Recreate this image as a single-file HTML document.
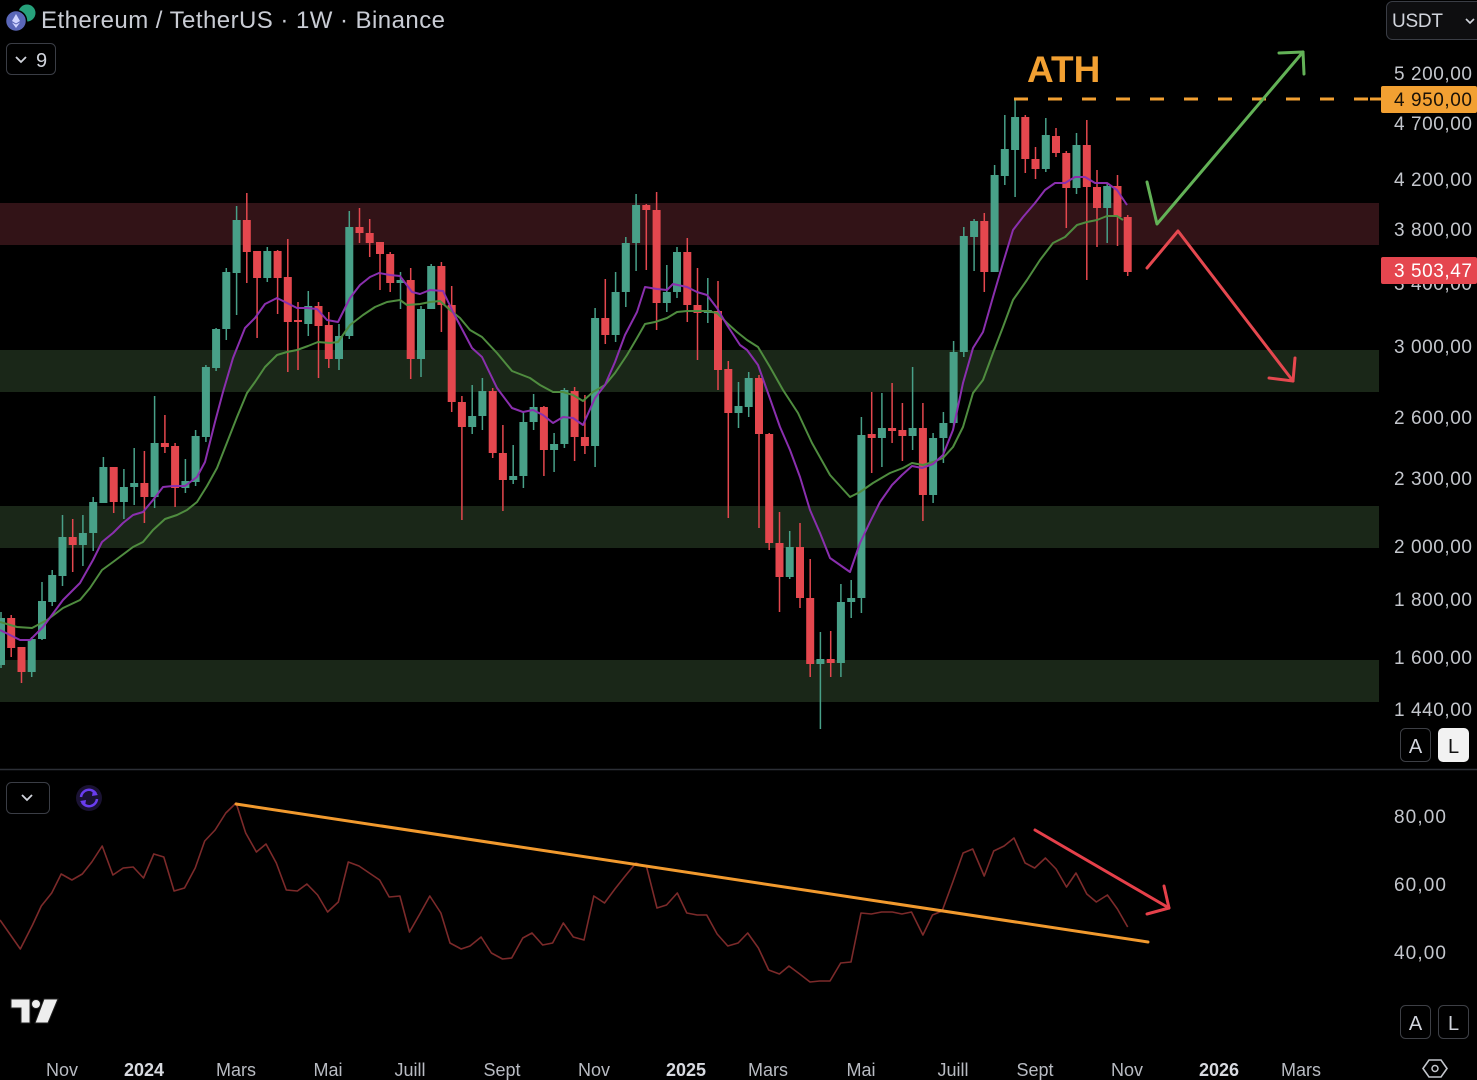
<!DOCTYPE html>
<html><head><meta charset="utf-8"><style>
html,body{margin:0;padding:0;background:#000;width:1477px;height:1080px;overflow:hidden}
svg{display:block}
text{font-family:"Liberation Sans",sans-serif}
</style></head><body>
<svg width="1477" height="1080" viewBox="0 0 1477 1080" xmlns="http://www.w3.org/2000/svg">
<rect width="1477" height="1080" fill="#000"/>
<!-- zones -->
<rect x="0" y="203" width="1379" height="42" fill="#321317"/>
<rect x="0" y="350" width="1379" height="42" fill="#1a2718"/>
<rect x="0" y="506" width="1379" height="42" fill="#1a2718"/>
<rect x="0" y="660" width="1379" height="42" fill="#1a2718"/>

<!-- green candles -->
<path fill="none" stroke="#48a088" stroke-width="1.5" d="M1,612V668M31.7,637V677M42,582V640M52.2,570V606M62.5,515V586M82.9,515V566M93.2,497V551M103.4,457V503M123.9,469V519M134.2,448V505M154.6,396V508M185.4,459V493M195.6,430V486M205.9,365V442M216.1,328V371M226.3,268V340M236.6,206V315M267.3,247V282M308.3,291V336M339,324V370M349.3,211V339M400.5,272V309M421,306V377M431.2,264V309M472.2,385V434M482.4,378V430M513.2,445V484M523.4,412V488M533.6,394V430M554.1,433V472M564.4,388V448M595.1,308V467M615.6,272V342M625.8,237V307M636.1,194V271M666.8,265V312M677,247V298M707.8,278V323M738.5,382V428M748.7,372V417M789.7,531V579M820.4,632V729M840.9,584V677M851.2,580V618M861.4,417V613M881.9,393V467M912.6,367V450M933.1,433V503M943.4,412V463M953.6,341V428M963.8,227V357M974.1,219V271M994.6,165V272M1004.8,115V185M1015.1,98V197M1045.8,118V172M1076.5,133V194M1107.2,183V243"/>
<path fill="#48a088" d="M-3,618h8V665h-8ZM27.7,639h8V672h-8ZM38,601h8V639h-8ZM48.2,575h8V602h-8ZM58.5,537h8V576h-8ZM78.9,533h8V545h-8ZM89.2,502h8V533h-8ZM99.4,467h8V503h-8ZM119.9,487h8V502h-8ZM130.2,483h8V487h-8ZM150.6,443h8V497h-8ZM181.4,481h8V488h-8ZM191.6,436h8V482h-8ZM201.9,367h8V437h-8ZM212.1,329h8V368h-8ZM222.3,272h8V329h-8ZM232.6,220h8V273h-8ZM263.3,251h8V278h-8ZM304.3,306h8V324h-8ZM335,336h8V359h-8ZM345.3,227h8V336h-8ZM396.5,280h8V283h-8ZM417,309h8V359h-8ZM427.2,266h8V309h-8ZM468.2,416h8V427h-8ZM478.4,391h8V416h-8ZM509.2,476h8V480h-8ZM519.4,422h8V476h-8ZM529.6,407h8V422h-8ZM550.1,444h8V450h-8ZM560.4,390h8V444h-8ZM591.1,318h8V446h-8ZM611.6,292h8V335h-8ZM621.8,243h8V292h-8ZM632.1,205h8V243h-8ZM662.8,292h8V303h-8ZM673,252h8V292h-8ZM703.8,310h8V313h-8ZM734.5,406h8V413h-8ZM744.7,378h8V407h-8ZM785.7,547h8V577h-8ZM816.4,659h8V664h-8ZM836.9,602h8V663h-8ZM847.2,598h8V602h-8ZM857.4,435h8V598h-8ZM877.9,428h8V438h-8ZM908.6,428h8V436h-8ZM929.1,438h8V495h-8ZM939.4,423h8V438h-8ZM949.6,352h8V423h-8ZM959.8,236h8V352h-8ZM970.1,221h8V237h-8ZM990.6,175h8V272h-8ZM1000.8,149h8V176h-8ZM1011.1,117h8V150h-8ZM1041.8,135h8V169h-8ZM1072.5,145h8V188h-8ZM1103.2,186h8V208h-8Z"/>

<!-- red candles -->
<path fill="none" stroke="#e4474e" stroke-width="1.5" d="M11.2,615V657M21.5,647V683M72.7,519V572M113.7,467V513M144.4,451V523M164.9,415V453M175.1,443V507M246.8,193V283M257.1,251V338M277.6,250V314M287.8,239V372M298,302V370M318.5,302V378M328.8,312V368M359.5,208V243M369.7,219V257M380,242V290M390.2,252V292M410.7,268V379M441.4,262V332M451.7,286V412M461.9,396V520M492.7,388V458M502.9,425V511M543.9,406V476M574.6,387V461M584.9,395V454M605.3,279V344M646.3,204V270M656.6,192V330M687.3,238V322M697.5,268V360M718,281V390M728.3,361V518M759,375V528M769.2,433V550M779.5,512V612M800,523V608M810.2,559V677M830.7,631V677M871.7,392V473M892.1,383V443M902.4,403V461M922.9,403V521M984.3,213V292M1025.3,115V173M1035.5,147V179M1056,128V157M1066.3,151V228M1086.8,120V280M1097,170V247M1117.5,175V246M1127.7,215V276"/>
<path fill="#e4474e" d="M7.2,618h8V648h-8ZM17.5,647h8V672h-8ZM68.7,537h8V545h-8ZM109.7,467h8V502h-8ZM140.4,483h8V497h-8ZM160.9,443h8V447h-8ZM171.1,446h8V488h-8ZM242.8,220h8V252h-8ZM253.1,251h8V278h-8ZM273.6,251h8V278h-8ZM283.8,277h8V322h-8ZM294,320h8V322h-8ZM314.5,306h8V326h-8ZM324.8,325h8V359h-8ZM355.5,227h8V233h-8ZM365.7,233h8V243h-8ZM376,242h8V254h-8ZM386.2,254h8V283h-8ZM406.7,280h8V359h-8ZM437.4,266h8V305h-8ZM447.7,305h8V402h-8ZM457.9,402h8V427h-8ZM488.7,391h8V453h-8ZM498.9,453h8V480h-8ZM539.9,407h8V450h-8ZM570.6,391h8V437h-8ZM580.9,437h8V446h-8ZM601.3,318h8V335h-8ZM642.3,205h8V210h-8ZM652.6,210h8V303h-8ZM683.3,252h8V305h-8ZM693.5,305h8V313h-8ZM714,311h8V370h-8ZM724.3,369h8V413h-8ZM755,378h8V434h-8ZM765.2,434h8V543h-8ZM775.5,543h8V577h-8ZM796,547h8V598h-8ZM806.2,598h8V664h-8ZM826.7,659h8V663h-8ZM867.7,434h8V438h-8ZM888.1,428h8V431h-8ZM898.4,430h8V436h-8ZM918.9,428h8V495h-8ZM980.3,221h8V272h-8ZM1021.3,117h8V159h-8ZM1031.5,159h8V169h-8ZM1052,136h8V153h-8ZM1062.3,153h8V188h-8ZM1082.8,145h8V187h-8ZM1093,187h8V208h-8ZM1113.5,186h8V217h-8ZM1123.7,217h8V272h-8Z"/>

<!-- moving averages -->
<polyline fill="none" stroke="#4f8c3f" stroke-width="2" stroke-linejoin="round" points="0,622 17,627 32,628 47,620 63,608 80,600 90,588 102,570 113,562 133,547 143,542 153,530 165,519 177,515 187,510 197,502 207,486 217,468 228,440 237,417 247,393 255,382 265,367 277,355 287,352 297,350 308,346 318,342 330,343 338,342 350,325 363,315 375,307 387,302 400,300 407,305 420,304 430,302 440,301 450,310 460,318 470,330 482,337 497,353 512,371 530,378 540,385 553,392 563,392 573,395 583,401 593,392 605,385 615,373 627,355 637,338 645,324 655,322 667,318 677,312 687,311 697,311 707,311 717,313 727,323 737,332 747,340 758,347 770,367 783,390 798,413 812,443 830,475 850,497 860,492 873,483 890,473 903,468 912,463 923,465 933,462 943,458 953,447 963,427 973,393 983,380 993,353 1003,327 1013,300 1027,280 1040,260 1053,243 1065,237 1077,225 1087,222 1097,220 1107,216 1117,216 1123,220"/>
<polyline fill="none" stroke="#8a2fae" stroke-width="2" stroke-linejoin="round" points="0,630 20,640 30,640 43,627 63,600 80,583 93,560 102,542 113,533 123,523 133,515 143,512 153,500 163,487 173,486 185,486 197,477 205,462 215,422 223,392 233,358 245,328 255,318 265,304 277,298 287,303 297,308 307,308 317,309 327,320 338,322 350,298 360,285 370,277 379,273 390,275 400,276 412,292 420,294 430,290 443,291 453,312 472,348 482,357 497,388 512,408 523,412 533,410 543,415 553,423 563,417 573,418 583,425 595,398 605,385 615,362 625,335 637,312 645,287 657,289 667,290 673,284 687,287 697,292 707,295 717,308 727,325 740,345 747,350 758,365 768,393 780,427 790,450 800,477 810,510 820,533 830,558 840,565 850,572 860,543 870,522 880,502 892,485 902,475 912,466 922,468 933,464 943,455 953,430 963,383 973,348 983,332 993,297 1003,263 1013,230 1023,217 1035,203 1045,190 1055,183 1065,183 1075,177 1085,177 1095,183 1107,183 1117,190 1127,205"/>

<!-- ATH dashed line -->
<line x1="1014" y1="99" x2="1380" y2="99" stroke="#f2a032" stroke-width="3" stroke-dasharray="14 20"/>
<text x="1027" y="82" font-size="37" font-weight="bold" fill="#f2a032">ATH</text>

<!-- arrows main chart -->
<g fill="none" stroke="#63b257" stroke-width="3" stroke-linecap="round" stroke-linejoin="round">
<polyline points="1147,182 1157,224 1303,52"/>
<polyline points="1279,53 1303,52 1304,74"/>
</g>
<g fill="none" stroke="#e5484f" stroke-width="3" stroke-linecap="round" stroke-linejoin="round">
<polyline points="1147,268 1178,231 1293,381"/>
<polyline points="1295,358 1293,381 1269,378"/>
</g>

<!-- price axis labels -->
<g font-size="19" fill="#c3c6cc">
<text x="1394" y="80" textLength="78">5 200,00</text>
<text x="1394" y="130" textLength="78">4 700,00</text>
<text x="1394" y="186" textLength="78">4 200,00</text>
<text x="1394" y="236" textLength="78">3 800,00</text>
<text x="1394" y="290" textLength="78">3 400,00</text>
<text x="1394" y="353" textLength="78">3 000,00</text>
<text x="1394" y="424" textLength="78">2 600,00</text>
<text x="1394" y="485" textLength="78">2 300,00</text>
<text x="1394" y="553" textLength="78">2 000,00</text>
<text x="1394" y="606" textLength="78">1 800,00</text>
<text x="1394" y="664" textLength="78">1 600,00</text>
<text x="1394" y="716" textLength="78">1 440,00</text>
</g>
<rect x="1381" y="86" width="96" height="27" rx="2" fill="#f2a032"/>
<line x1="1370" y1="99" x2="1381" y2="99" stroke="#f2a032" stroke-width="3"/>
<text x="1394" y="106" font-size="19" fill="#1a1208" textLength="78">4 950,00</text>
<rect x="1381" y="257" width="96" height="27" rx="2" fill="#e5464f"/>
<text x="1394" y="277" font-size="19" fill="#ffffff" textLength="78">3 503,47</text>

<!-- USDT box -->
<rect x="1386.5" y="1.5" width="100" height="38" rx="6" fill="#0e0e10" stroke="#3a3d45" stroke-width="1"/>
<text x="1392" y="27" font-size="19" fill="#d1d4dc" textLength="51">USDT</text>
<polyline points="1466,19 1470,23 1474,19" fill="none" stroke="#d1d4dc" stroke-width="1.6"/>

<!-- A L buttons -->
<rect x="1400.5" y="728.5" width="30" height="33" rx="5" fill="none" stroke="#3d3f45"/>
<text x="1415.5" y="753" font-size="20" fill="#d1d4dc" text-anchor="middle">A</text>
<rect x="1438" y="728" width="31" height="34" rx="5" fill="#f2f2f2"/>
<text x="1453.5" y="753" font-size="20" fill="#111" text-anchor="middle">L</text>
<rect x="1400.5" y="1005.5" width="30" height="33" rx="5" fill="none" stroke="#3d3f45"/>
<text x="1415.5" y="1030" font-size="20" fill="#d1d4dc" text-anchor="middle">A</text>
<rect x="1438.5" y="1005.5" width="30" height="33" rx="5" fill="none" stroke="#3d3f45"/>
<text x="1453.5" y="1030" font-size="20" fill="#d1d4dc" text-anchor="middle">L</text>

<!-- separator -->
<line x1="0" y1="769.5" x2="1477" y2="769.5" stroke="#2c2f36" stroke-width="1.5"/>

<!-- RSI panel -->
<g font-size="19" fill="#c3c6cc">
<text x="1394" y="823" textLength="52">80,00</text>
<text x="1394" y="891" textLength="52">60,00</text>
<text x="1394" y="959" textLength="52">40,00</text>
</g>
<polyline fill="none" stroke="#7c2a2a" stroke-width="1.6" stroke-linejoin="round" points="0,920 20.3,949 32.5,925 41.3,906 51.7,893 61.2,874 71.9,880 82.3,874 91.8,862 102.2,846 112.9,875 123.2,868 133.2,867 143.5,878 153.8,854 163.8,857 174.1,891 184.5,888 195.2,868 204.7,841 215.1,830 225.8,813 236.1,803 245.7,833 256.4,852 266,844 276.3,863 286.3,890 297.4,891 306.9,884 317.6,895 327.6,912 338.3,902 348.3,862 359,866 369.3,873 379.6,880 389.2,897 399.9,896 409.5,932 419.8,914 429.8,896 440.9,913 450,943 461.2,949 470,946 481.1,937 491.4,953 502.5,959 511.7,958 522.8,938 532,933 542.7,945 552.6,943 563.3,923 573.3,937 584,940 593.8,896 604.5,903 614.9,889 625.2,876 635.9,863 646.6,867 657,908 666.5,905 677.3,893 686.8,913 697.2,915 706.7,915 717.1,934 727.8,946 738.1,943 747.7,933 758.4,948 768.7,970 779.4,974 789,966 799.7,974 810,982 819.6,981 830,981 840.7,963 851,962 861,913 871.3,914 881.6,912 892.3,912 901.9,914 911.5,912 922.9,935 932.5,915 942.1,911 952.8,882 963.1,853 972.7,849 984.2,876 993.7,851 1004.1,846 1014,838 1025.1,863 1034.7,868 1045.4,858 1056.1,869 1066.5,887 1076,873 1086.8,894 1096.3,902 1107.4,895 1117.4,909 1127.7,927"/>
<line x1="236" y1="804" x2="1148" y2="942" stroke="#f29a2e" stroke-width="3" stroke-linecap="round"/>
<g fill="none" stroke="#e5404a" stroke-width="3" stroke-linecap="round" stroke-linejoin="round">
<line x1="1035" y1="830" x2="1169" y2="908"/>
<polyline points="1164,886 1169,908 1147,914"/>
</g>

<!-- RSI controls -->
<rect x="6.5" y="782.5" width="43" height="31" rx="5" fill="none" stroke="#3a3d45"/>
<polyline points="22,795 27,800 32,795" fill="none" stroke="#d1d4dc" stroke-width="1.8"/>
<circle cx="89" cy="798" r="13" fill="#1a1233"/>
<path d="M81,797 A8,8 0 0 1 96,794" fill="none" stroke="#6a3df0" stroke-width="2.5"/>
<path d="M97,799 A8,8 0 0 1 82,802" fill="none" stroke="#6a3df0" stroke-width="2.5"/>
<polygon points="93,790 98,795 92,796" fill="#6a3df0"/>
<polygon points="85,806 80,801 86,800" fill="#6a3df0"/>

<!-- header -->
<circle cx="27" cy="13" r="8.5" fill="#26a17b"/>
<circle cx="16" cy="21" r="10.5" fill="#5a67b8" stroke="#000" stroke-width="1.5"/>
<polygon points="16,14 20,21 16,23.5 12,21" fill="#cfd4ff"/>
<polygon points="16,24.5 20,22.5 16,28 12,22.5" fill="#cfd4ff"/>
<text x="41" y="28" font-size="24" fill="#c9ccd4" textLength="404">Ethereum / TetherUS · 1W · Binance</text>
<rect x="6.5" y="43.5" width="49" height="31" rx="5" fill="none" stroke="#3a3d45"/>
<polyline points="16,57 21,62 26,57" fill="none" stroke="#d1d4dc" stroke-width="1.8"/>
<text x="36" y="67" font-size="20" fill="#d1d4dc">9</text>

<!-- TV logo -->
<g fill="#eeeeee" stroke="#222" stroke-width="1">
<path d="M11,999H30V1023H21V1008H11Z"/>
<circle cx="36" cy="1004" r="4.5"/>
<path d="M44,999H58L48,1023H35Z"/>
</g>

<!-- time axis -->
<g font-size="18" fill="#b8bbc2" text-anchor="middle">
<text x="62" y="1076">Nov</text>
<text x="144" y="1076" font-weight="bold" fill="#d8dae0">2024</text>
<text x="236" y="1076">Mars</text>
<text x="328" y="1076">Mai</text>
<text x="410" y="1076">Juill</text>
<text x="502" y="1076">Sept</text>
<text x="594" y="1076">Nov</text>
<text x="686" y="1076" font-weight="bold" fill="#d8dae0">2025</text>
<text x="768" y="1076">Mars</text>
<text x="861" y="1076">Mai</text>
<text x="953" y="1076">Juill</text>
<text x="1035" y="1076">Sept</text>
<text x="1127" y="1076">Nov</text>
<text x="1219" y="1076" font-weight="bold" fill="#d8dae0">2026</text>
<text x="1301" y="1076">Mars</text>
</g>
<polygon points="1429,1060 1441,1060 1447,1068.5 1441,1077 1429,1077 1423,1068.5" fill="none" stroke="#c3c6cc" stroke-width="1.6"/>
<circle cx="1435" cy="1068.5" r="3" fill="none" stroke="#c3c6cc" stroke-width="1.5"/>
</svg>
</body></html>
